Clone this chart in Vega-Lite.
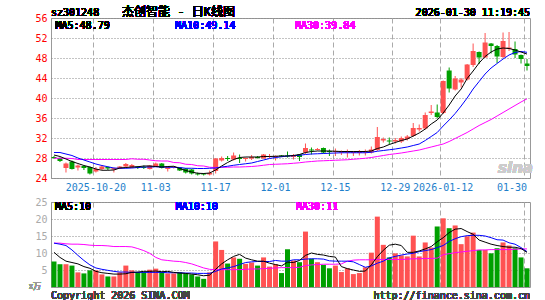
{
"$schema": "https://vega.github.io/schema/vega-lite/v6.json",
"autosize": {"type": "pad"},
"padding": {"left": 28, "top": 5, "right": 0, "bottom": 0},
"background": "white",
"spacing": 24,
"bounds": "flush",
"datasets": {"k": [
{"d":"2025-10-09","o":28.2,"h":28.4,"l":27.8,"c":28.0,"v":7.5,"m5":28.6,"m10":29.1,"m30":27.95,"v5":10.2,"v10":12.9,"v30":12.9},
{"d":"2025-10-10","o":28.0,"h":28.1,"l":27.2,"c":27.4,"v":6.7,"m5":28.3,"m10":29.1,"m30":27.95,"v5":8.7,"v10":12.6,"v30":12.9},
{"d":"2025-10-13","o":26.0,"h":27.1,"l":25.1,"c":26.9,"v":6.7,"m5":27.8,"m10":28.8,"m30":27.95,"v5":7.6,"v10":12.2,"v30":12.7},
{"d":"2025-10-14","o":27.3,"h":27.5,"l":25.7,"c":25.8,"v":6.3,"m5":27.3,"m10":28.5,"m30":27.9,"v5":7.2,"v10":10.9,"v30":12.6},
{"d":"2025-10-15","o":26.1,"h":26.7,"l":25.5,"c":26.5,"v":4.3,"m5":26.9,"m10":28.0,"m30":27.7,"v5":6.8,"v10":9.3,"v30":12.6},
{"d":"2025-10-16","o":26.4,"h":26.5,"l":25.6,"c":26.0,"v":4.0,"m5":26.5,"m10":27.6,"m30":27.7,"v5":6.0,"v10":7.8,"v30":12.5},
{"d":"2025-10-17","o":26.2,"h":26.3,"l":24.7,"c":24.9,"v":4.9,"m5":26.2,"m10":27.2,"m30":27.7,"v5":5.5,"v10":6.5,"v30":12.3},
{"d":"2025-10-20","o":25.3,"h":26.2,"l":25.1,"c":25.8,"v":4.9,"m5":25.8,"m10":26.8,"m30":27.7,"v5":4.6,"v10":5.6,"v30":12.2},
{"d":"2025-10-21","o":25.8,"h":26.6,"l":25.6,"c":26.3,"v":3.7,"m5":25.55,"m10":26.5,"m30":27.7,"v5":4.2,"v10":5.2,"v30":12.2},
{"d":"2025-10-22","o":26.2,"h":26.3,"l":25.6,"c":25.9,"v":3.1,"m5":25.55,"m10":26.25,"m30":27.7,"v5":4.0,"v10":4.9,"v30":12.1},
{"d":"2025-10-23","o":25.7,"h":26.1,"l":25.1,"c":26.0,"v":3.1,"m5":25.6,"m10":26.0,"m30":27.7,"v5":3.8,"v10":4.6,"v30":11.9},
{"d":"2025-10-24","o":25.9,"h":26.4,"l":25.8,"c":26.3,"v":4.3,"m5":26.0,"m10":25.95,"m30":27.7,"v5":3.8,"v10":4.4,"v30":11.9},
{"d":"2025-10-27","o":26.3,"h":27.0,"l":26.2,"c":26.8,"v":6.3,"m5":26.1,"m10":25.95,"m30":27.7,"v5":3.9,"v10":4.4,"v30":11.9},
{"d":"2025-10-28","o":26.1,"h":26.8,"l":26.0,"c":26.6,"v":4.9,"m5":26.2,"m10":26.0,"m30":27.85,"v5":4.3,"v10":4.3,"v30":11.8},
{"d":"2025-10-29","o":26.3,"h":26.4,"l":25.8,"c":26.0,"v":4.4,"m5":26.25,"m10":26.1,"m30":27.75,"v5":4.4,"v10":4.3,"v30":11.3},
{"d":"2025-10-30","o":26.2,"h":26.5,"l":25.8,"c":26.0,"v":4.4,"m5":26.4,"m10":26.2,"m30":27.75,"v5":4.6,"v10":4.3,"v30":10.7},
{"d":"2025-10-31","o":25.8,"h":26.6,"l":25.7,"c":26.5,"v":5.1,"m5":26.4,"m10":26.2,"m30":27.6,"v5":4.6,"v10":4.3,"v30":9.9},
{"d":"2025-11-03","o":26.3,"h":27.1,"l":26.2,"c":26.9,"v":5.4,"m5":26.3,"m10":26.25,"m30":27.45,"v5":4.7,"v10":4.3,"v30":8.7},
{"d":"2025-11-04","o":26.9,"h":27.0,"l":25.9,"c":26.0,"v":4.4,"m5":26.2,"m10":26.2,"m30":27.4,"v5":4.5,"v10":4.3,"v30":8.0},
{"d":"2025-11-05","o":25.8,"h":26.4,"l":25.3,"c":26.2,"v":4.0,"m5":26.3,"m10":26.15,"m30":27.4,"v5":4.6,"v10":4.2,"v30":7.8},
{"d":"2025-11-06","o":26.1,"h":26.3,"l":25.9,"c":26.3,"v":4.0,"m5":26.35,"m10":26.15,"m30":27.1,"v5":4.3,"v10":4.2,"v30":7.6},
{"d":"2025-11-07","o":26.1,"h":26.2,"l":25.4,"c":25.5,"v":4.3,"m5":25.9,"m10":26.1,"m30":27.05,"v5":4.1,"v10":4.2,"v30":7.5},
{"d":"2025-11-10","o":25.9,"h":26.0,"l":24.9,"c":25.1,"v":4.0,"m5":25.5,"m10":25.95,"m30":26.75,"v5":4.0,"v10":4.1,"v30":7.2},
{"d":"2025-11-11","o":25.7,"h":25.8,"l":24.7,"c":24.9,"v":3.7,"m5":25.2,"m10":25.95,"m30":26.7,"v5":3.8,"v10":4.1,"v30":6.8},
{"d":"2025-11-12","o":24.9,"h":25.1,"l":24.5,"c":24.7,"v":3.1,"m5":24.95,"m10":25.9,"m30":26.45,"v5":3.6,"v10":4.0,"v30":6.2},
{"d":"2025-11-13","o":24.9,"h":25.0,"l":24.5,"c":24.7,"v":2.4,"m5":24.9,"m10":25.9,"m30":26.4,"v5":3.3,"v10":4.0,"v30":5.6},
{"d":"2025-11-14","o":24.7,"h":25.5,"l":24.5,"c":25.0,"v":4.3,"m5":25.0,"m10":25.95,"m30":26.15,"v5":3.5,"v10":4.0,"v30":5.2},
{"d":"2025-11-17","o":25.4,"h":28.0,"l":24.9,"c":27.9,"v":13.4,"m5":25.6,"m10":26.0,"m30":26.1,"v5":5.2,"v10":4.6,"v30":5.1},
{"d":"2025-11-18","o":27.5,"h":28.3,"l":27.3,"c":28.0,"v":10.9,"m5":26.4,"m10":26.2,"m30":26.15,"v5":6.8,"v10":5.3,"v30":5.1},
{"d":"2025-11-19","o":28.0,"h":28.4,"l":27.4,"c":27.8,"v":6.9,"m5":27.1,"m10":26.35,"m30":26.15,"v5":8.0,"v10":5.6,"v30":5.1},
{"d":"2025-11-20","o":27.7,"h":29.1,"l":27.5,"c":28.5,"v":8.7,"m5":27.7,"m10":26.55,"m30":26.2,"v5":9.0,"v10":6.0,"v30":5.1},
{"d":"2025-11-21","o":28.0,"h":28.7,"l":27.0,"c":27.8,"v":8.3,"m5":28.1,"m10":26.7,"m30":26.2,"v5":9.6,"v10":6.6,"v30":5.1},
{"d":"2025-11-24","o":27.8,"h":28.1,"l":27.3,"c":28.0,"v":6.8,"m5":28.2,"m10":26.85,"m30":26.25,"v5":8.5,"v10":7.2,"v30":5.2},
{"d":"2025-11-25","o":27.9,"h":28.6,"l":27.6,"c":28.2,"v":7.2,"m5":28.2,"m10":27.0,"m30":26.3,"v5":8.0,"v10":7.4,"v30":5.3},
{"d":"2025-11-26","o":28.2,"h":28.4,"l":27.9,"c":28.0,"v":6.3,"m5":28.2,"m10":27.3,"m30":26.4,"v5":7.6,"v10":7.5,"v30":5.3},
{"d":"2025-11-27","o":27.9,"h":28.8,"l":27.9,"c":28.7,"v":8.7,"m5":28.3,"m10":27.6,"m30":26.55,"v5":7.6,"v10":7.5,"v30":5.4},
{"d":"2025-11-28","o":28.2,"h":28.8,"l":28.0,"c":28.4,"v":6.0,"m5":28.3,"m10":27.9,"m30":26.7,"v5":7.0,"v10":7.5,"v30":5.5},
{"d":"2025-12-01","o":28.2,"h":28.5,"l":27.5,"c":28.4,"v":6.7,"m5":28.35,"m10":28.1,"m30":26.75,"v5":6.6,"v10":7.8,"v30":5.6},
{"d":"2025-12-02","o":28.5,"h":28.6,"l":28.2,"c":28.3,"v":4.1,"m5":28.4,"m10":28.25,"m30":26.8,"v5":6.2,"v10":7.6,"v30":5.7},
{"d":"2025-12-03","o":28.5,"h":29.3,"l":28.1,"c":28.3,"v":11.1,"m5":28.4,"m10":28.4,"m30":26.85,"v5":7.3,"v10":7.6,"v30":5.7},
{"d":"2025-12-04","o":28.2,"h":28.8,"l":27.7,"c":28.5,"v":7.8,"m5":28.5,"m10":28.45,"m30":26.95,"v5":7.2,"v10":8.0,"v30":5.7},
{"d":"2025-12-05","o":28.7,"h":28.8,"l":27.4,"c":28.2,"v":7.3,"m5":28.7,"m10":28.55,"m30":27.05,"v5":7.8,"v10":8.0,"v30":5.8},
{"d":"2025-12-08","o":29.1,"h":30.9,"l":28.8,"c":30.0,"v":16.3,"m5":29.1,"m10":28.7,"m30":27.2,"v5":9.3,"v10":8.2,"v30":6.3},
{"d":"2025-12-09","o":29.7,"h":30.1,"l":28.7,"c":29.5,"v":8.3,"m5":29.3,"m10":28.8,"m30":27.3,"v5":10.0,"v10":8.3,"v30":6.5},
{"d":"2025-12-10","o":29.6,"h":30.0,"l":29.5,"c":29.8,"v":7.3,"m5":29.4,"m10":28.85,"m30":27.4,"v5":9.6,"v10":8.3,"v30":6.6},
{"d":"2025-12-11","o":30.0,"h":30.1,"l":28.9,"c":29.1,"v":6.5,"m5":29.4,"m10":28.9,"m30":27.45,"v5":9.4,"v10":8.2,"v30":6.7},
{"d":"2025-12-12","o":29.4,"h":29.7,"l":28.4,"c":29.2,"v":5.5,"m5":29.4,"m10":28.95,"m30":27.5,"v5":9.0,"v10":7.7,"v30":6.7},
{"d":"2025-12-15","o":29.2,"h":29.9,"l":28.4,"c":29.4,"v":6.3,"m5":29.35,"m10":29.0,"m30":27.55,"v5":8.8,"v10":7.6,"v30":6.7},
{"d":"2025-12-16","o":29.1,"h":29.5,"l":28.6,"c":29.3,"v":4.4,"m5":29.3,"m10":29.05,"m30":27.6,"v5":6.0,"v10":7.6,"v30":6.8},
{"d":"2025-12-17","o":29.1,"h":29.7,"l":28.1,"c":29.3,"v":5.5,"m5":29.3,"m10":29.05,"m30":27.65,"v5":5.4,"v10":7.6,"v30":7.6},
{"d":"2025-12-18","o":29.0,"h":29.4,"l":28.4,"c":29.2,"v":3.8,"m5":29.3,"m10":29.05,"m30":27.75,"v5":5.0,"v10":7.4,"v30":7.9},
{"d":"2025-12-19","o":29.0,"h":29.6,"l":28.5,"c":29.2,"v":4.1,"m5":29.3,"m10":29.05,"m30":27.85,"v5":4.6,"v10":6.6,"v30":8.0},
{"d":"2025-12-22","o":29.1,"h":29.7,"l":28.5,"c":29.3,"v":5.8,"m5":29.3,"m10":29.05,"m30":27.95,"v5":4.7,"v10":5.8,"v30":8.0},
{"d":"2025-12-23","o":29.1,"h":30.3,"l":28.9,"c":29.7,"v":10.1,"m5":29.4,"m10":29.15,"m30":28.1,"v5":6.5,"v10":6.2,"v30":8.0},
{"d":"2025-12-24","o":29.6,"h":34.2,"l":29.4,"c":32.2,"v":20.7,"m5":29.9,"m10":29.35,"m30":28.3,"v5":8.9,"v10":7.0,"v30":8.1},
{"d":"2025-12-25","o":31.5,"h":32.1,"l":31.1,"c":31.8,"v":12.4,"m5":30.2,"m10":29.5,"m30":28.5,"v5":10.8,"v10":7.6,"v30":8.1},
{"d":"2025-12-26","o":31.5,"h":32.1,"l":30.7,"c":31.3,"v":8.7,"m5":30.7,"m10":29.65,"m30":28.7,"v5":12.3,"v10":8.6,"v30":8.1},
{"d":"2025-12-29","o":31.3,"h":32.0,"l":30.9,"c":31.6,"v":9.9,"m5":31.1,"m10":29.8,"m30":28.85,"v5":12.6,"v10":9.0,"v30":8.1},
{"d":"2025-12-30","o":31.3,"h":32.3,"l":31.0,"c":32.0,"v":9.3,"m5":31.5,"m10":30.0,"m30":29.0,"v5":12.2,"v10":9.4,"v30":8.1},
{"d":"2025-12-31","o":31.8,"h":32.6,"l":31.5,"c":32.3,"v":9.0,"m5":31.8,"m10":30.2,"m30":29.2,"v5":10.2,"v10":9.7,"v30":8.2},
{"d":"2026-01-05","o":32.4,"h":35.0,"l":32.2,"c":34.0,"v":15.1,"m5":32.4,"m10":30.5,"m30":29.4,"v5":10.2,"v10":9.9,"v30":8.3},
{"d":"2026-01-06","o":33.7,"h":34.7,"l":33.3,"c":34.0,"v":9.0,"m5":33.0,"m10":30.8,"m30":29.6,"v5":10.6,"v10":10.4,"v30":8.3},
{"d":"2026-01-07","o":33.9,"h":37.1,"l":33.7,"c":36.6,"v":13.1,"m5":33.8,"m10":31.5,"m30":29.9,"v5":11.2,"v10":10.7,"v30":8.4},
{"d":"2026-01-08","o":37.0,"h":38.6,"l":36.6,"c":37.3,"v":11.6,"m5":34.8,"m10":32.3,"m30":30.2,"v5":11.9,"v10":11.0,"v30":8.4},
{"d":"2026-01-09","o":37.1,"h":38.7,"l":35.9,"c":36.2,"v":17.8,"m5":35.6,"m10":33.1,"m30":30.5,"v5":13.3,"v10":11.6,"v30":8.5},
{"d":"2026-01-12","o":37.0,"h":43.5,"l":36.8,"c":43.4,"v":20.2,"m5":37.0,"m10":34.4,"m30":30.8,"v5":14.5,"v10":12.2,"v30":9.5},
{"d":"2026-01-13","o":45.5,"h":46.1,"l":41.1,"c":41.9,"v":17.3,"m5":38.6,"m10":35.6,"m30":31.3,"v5":16.0,"v10":13.4,"v30":9.8},
{"d":"2026-01-14","o":41.7,"h":44.4,"l":41.5,"c":43.9,"v":18.1,"m5":40.4,"m10":36.9,"m30":31.9,"v5":17.0,"v10":14.2,"v30":10.1},
{"d":"2026-01-15","o":43.1,"h":44.0,"l":42.1,"c":43.7,"v":12.6,"m5":41.8,"m10":38.4,"m30":32.5,"v5":17.2,"v10":14.8,"v30":10.3},
{"d":"2026-01-16","o":43.7,"h":46.8,"l":43.5,"c":46.7,"v":14.9,"m5":43.9,"m10":40.0,"m30":33.1,"v5":16.3,"v10":15.1,"v30":10.5},
{"d":"2026-01-19","o":46.6,"h":50.9,"l":46.2,"c":49.4,"v":16.0,"m5":45.4,"m10":41.8,"m30":33.8,"v5":15.5,"v10":15.2,"v30":10.7},
{"d":"2026-01-20","o":49.2,"h":49.3,"l":46.8,"c":48.1,"v":10.9,"m5":47.0,"m10":43.3,"m30":34.5,"v5":13.8,"v10":15.2,"v30":10.9},
{"d":"2026-01-21","o":48.1,"h":53.0,"l":48.0,"c":51.1,"v":10.9,"m5":48.3,"m10":44.8,"m30":35.1,"v5":13.2,"v10":15.0,"v30":10.9},
{"d":"2026-01-22","o":50.9,"h":51.0,"l":48.9,"c":50.4,"v":9.9,"m5":49.2,"m10":46.0,"m30":35.7,"v5":12.6,"v10":14.5,"v30":11.0},
{"d":"2026-01-23","o":50.4,"h":50.6,"l":47.0,"c":48.3,"v":11.4,"m5":49.8,"m10":46.9,"m30":36.4,"v5":12.2,"v10":13.9,"v30":11.0},
{"d":"2026-01-26","o":48.2,"h":53.1,"l":48.0,"c":51.4,"v":13.1,"m5":50.0,"m10":47.8,"m30":37.1,"v5":11.9,"v10":13.8,"v30":11.0},
{"d":"2026-01-27","o":49.8,"h":53.2,"l":49.4,"c":50.1,"v":12.2,"m5":49.9,"m10":48.6,"m30":37.8,"v5":11.7,"v10":13.0,"v30":11.0},
{"d":"2026-01-28","o":49.8,"h":51.3,"l":48.0,"c":48.7,"v":11.4,"m5":49.6,"m10":49.1,"m30":38.5,"v5":11.7,"v10":12.6,"v30":11.1},
{"d":"2026-01-29","o":48.6,"h":48.7,"l":46.9,"c":47.8,"v":8.7,"m5":49.2,"m10":49.3,"m30":39.2,"v5":11.3,"v10":11.6,"v30":11.2},
{"d":"2026-01-30","o":46.9,"h":47.8,"l":45.5,"c":46.4,"v":5.5,"m5":48.79,"m10":49.14,"m30":39.84,"v5":10.2,"v10":10.4,"v30":11.2}
]},
"vconcat": [
{
"width": 479, "height": 160,
"data": {"name": "k"},
"layer": [
{"mark": {"type": "rule", "strokeWidth": 1},
 "encoding": {
  "x": {"field": "d", "type": "ordinal", "scale": {"type": "band", "paddingInner": 0, "paddingOuter": 0},
   "axis": {"values": ["2025-10-20","2025-11-03","2025-11-17","2025-12-01","2025-12-15","2025-12-29","2026-01-12","2026-01-30"],
    "labelExpr": "datum.value == '2025-10-20' || datum.value == '2026-01-12' ? datum.value : substring(datum.value, 5)",
    "labelColor": "#1e7fcb", "labelFlush": 8}},
  "y": {"field": "l", "type": "quantitative", "scale": {"domain": [24,56], "nice": false, "zero": false},
   "axis": {"values": [24,28,32,36,40,44,48,52,56], "tickCount": 40, "format": "d", "labelColor": "#ff0000"}},
  "y2": {"field": "h"},
  "color": {"condition": {"test": "datum.c >= datum.o", "value": "#ff5252"}, "value": "#00a000"}
 }},
{"mark": {"type": "bar", "width": 5},
 "encoding": {
  "x": {"field": "d", "type": "ordinal"},
  "y": {"field": "o", "type": "quantitative"},
  "y2": {"field": "c"},
  "color": {"condition": {"test": "datum.c >= datum.o", "value": "#ff5252"}, "value": "#00a000"}
 }},
{"mark": {"type": "line", "color": "#ff00ff", "strokeWidth": 1},
 "encoding": {"x": {"field": "d", "type": "ordinal"}, "y": {"field": "m30", "type": "quantitative"}}},
{"mark": {"type": "line", "color": "#0000ff", "strokeWidth": 1},
 "encoding": {"x": {"field": "d", "type": "ordinal"}, "y": {"field": "m10", "type": "quantitative"}}},
{"mark": {"type": "line", "color": "#000000", "strokeWidth": 1},
 "encoding": {"x": {"field": "d", "type": "ordinal"}, "y": {"field": "m5", "type": "quantitative"}}},
{"mark": {"type": "text", "align": "left", "baseline": "middle", "dx": 1, "font": "DejaVu Sans", "fontSize": 15, "fontWeight": "bold", "fontStyle": "italic", "color": "#cccccc"},
 "encoding": {"x": {"datum": "2026-01-23", "type": "ordinal"}, "y": {"datum": 26, "type": "quantitative"}, "text": {"value": "sina"}}},
{"mark": {"type": "text", "align": "left", "baseline": "alphabetic", "dx": -3, "dy": -2, "font": "DejaVu Sans Mono", "fontSize": 10, "color": "#000000"},
 "encoding": {"x": {"datum": "2025-10-09", "type": "ordinal"}, "y": {"datum": 56, "type": "quantitative"}, "text": {"value": "sz301248"}}},
{"mark": {"type": "text", "align": "left", "baseline": "alphabetic", "dx": 68, "dy": -2, "font": "DejaVu Sans Mono, Noto Sans CJK SC", "fontSize": 12, "color": "#000000"},
 "encoding": {"x": {"datum": "2025-10-09", "type": "ordinal"}, "y": {"datum": 56, "type": "quantitative"}, "text": {"value": "杰创智能 - 日K线图"}}},
{"mark": {"type": "text", "align": "right", "baseline": "alphabetic", "dx": 3, "dy": -2, "font": "DejaVu Sans Mono", "fontSize": 10, "color": "#000000"},
 "encoding": {"x": {"datum": "2026-01-30", "type": "ordinal"}, "y": {"datum": 56, "type": "quantitative"}, "text": {"value": "2026-01-30 11:19:45"}}},
{"mark": {"type": "text", "align": "left", "baseline": "middle", "dx": 1.5, "dy": 7.5, "font": "DejaVu Sans Mono", "fontSize": 10, "color": "#000000"},
 "encoding": {"x": {"datum": "2025-10-09", "type": "ordinal"}, "y": {"datum": 56, "type": "quantitative"}, "text": {"value": "MA5:48.79"}}},
{"mark": {"type": "text", "align": "left", "baseline": "middle", "dx": 1.3, "dy": 7.5, "font": "DejaVu Sans Mono", "fontSize": 10, "color": "#0000ff"},
 "encoding": {"x": {"datum": "2025-11-06", "type": "ordinal"}, "y": {"datum": 56, "type": "quantitative"}, "text": {"value": "MA10:49.14"}}},
{"mark": {"type": "text", "align": "left", "baseline": "middle", "dx": 1.5, "dy": 7.5, "font": "DejaVu Sans Mono", "fontSize": 10, "color": "#ff00ff"},
 "encoding": {"x": {"datum": "2025-12-04", "type": "ordinal"}, "y": {"datum": 56, "type": "quantitative"}, "text": {"value": "MA30:39.84"}}}
]
},
{
"width": 479, "height": 85,
"data": {"name": "k"},
"layer": [
{"mark": {"type": "bar", "width": 5},
 "encoding": {
  "x": {"field": "d", "type": "ordinal", "scale": {"type": "band", "paddingInner": 0, "paddingOuter": 0},
   "axis": {"values": ["2025-10-20","2025-11-03","2025-11-17","2025-12-01","2025-12-15","2025-12-29","2026-01-12","2026-01-30"], "labels": false}},
  "y": {"field": "v", "type": "quantitative", "scale": {"domain": [0,25], "nice": false},
   "axis": {"values": [0,5,10,15,20,25], "tickCount": 40, "format": "d", "labelExpr": "datum.value == 0 ? '' : datum.label", "labelColor": "#aaaaaa"}},
  "color": {"condition": {"test": "datum.c >= datum.o", "value": "#ff5252"}, "value": "#00a000"}
 }},
{"mark": {"type": "line", "color": "#ff00ff", "strokeWidth": 1},
 "encoding": {"x": {"field": "d", "type": "ordinal"}, "y": {"field": "v30", "type": "quantitative"}}},
{"mark": {"type": "line", "color": "#0000ff", "strokeWidth": 1},
 "encoding": {"x": {"field": "d", "type": "ordinal"}, "y": {"field": "v10", "type": "quantitative"}}},
{"mark": {"type": "line", "color": "#000000", "strokeWidth": 1},
 "encoding": {"x": {"field": "d", "type": "ordinal"}, "y": {"field": "v5", "type": "quantitative"}}},
{"mark": {"type": "text", "align": "left", "baseline": "middle", "dx": 1, "dy": 5.3, "font": "DejaVu Sans Mono", "fontSize": 10, "color": "#000000"},
 "encoding": {"x": {"datum": "2025-10-09", "type": "ordinal"}, "y": {"datum": 25, "type": "quantitative"}, "text": {"value": "MA5:10"}}},
{"mark": {"type": "text", "align": "left", "baseline": "middle", "dx": 2, "dy": 5.3, "font": "DejaVu Sans Mono", "fontSize": 10, "color": "#0000ff"},
 "encoding": {"x": {"datum": "2025-11-06", "type": "ordinal"}, "y": {"datum": 25, "type": "quantitative"}, "text": {"value": "MA10:10"}}},
{"mark": {"type": "text", "align": "left", "baseline": "middle", "dx": 2.5, "dy": 5.3, "font": "DejaVu Sans Mono", "fontSize": 10, "color": "#ff00ff"},
 "encoding": {"x": {"datum": "2025-12-04", "type": "ordinal"}, "y": {"datum": 25, "type": "quantitative"}, "text": {"value": "MA30:11"}}},
{"mark": {"type": "text", "align": "left", "baseline": "middle", "dx": -25, "dy": 0, "font": "Noto Sans CJK SC", "fontSize": 8, "color": "#999999"},
 "encoding": {"x": {"datum": "2025-10-09", "type": "ordinal"}, "y": {"datum": 0, "type": "quantitative"}, "text": {"value": "x万"}}},
{"mark": {"type": "text", "align": "left", "baseline": "middle", "dx": -3, "dy": 8.5, "font": "DejaVu Sans Mono", "fontSize": 10, "color": "#444444"},
 "encoding": {"x": {"datum": "2025-10-09", "type": "ordinal"}, "y": {"datum": 0, "type": "quantitative"}, "text": {"value": "Copyright 2026 SINA.COM"}}},
{"mark": {"type": "text", "align": "right", "baseline": "middle", "dx": 3, "dy": 8.5, "font": "DejaVu Sans Mono", "fontSize": 10, "color": "#444444"},
 "encoding": {"x": {"datum": "2026-01-30", "type": "ordinal"}, "y": {"datum": 0, "type": "quantitative"}, "text": {"value": "http://finance.sina.com.cn"}}}
]
}
],
"config": {
 "view": {"stroke": "#999999", "strokeWidth": 1},
 "axis": {"title": null, "ticks": false, "domain": false, "grid": true, "labelFont": "DejaVu Sans Mono", "labelFontSize": 10, "labelPadding": 4, "labelOverlap": false},
 "axisX": {"bandPosition": 0.1, "gridDash": [5,3], "gridColor": "#aaaaaa", "labelAngle": 0, "labelBound": false},
 "axisY": {"gridDash": [1,2], "gridColor": "#888888", "gridOpacity": 1},
 "axisBand": {"grid": true, "bandPosition": 0.1},
 "axisQuantitative": {"grid": true, "labelOverlap": false}
}
}
